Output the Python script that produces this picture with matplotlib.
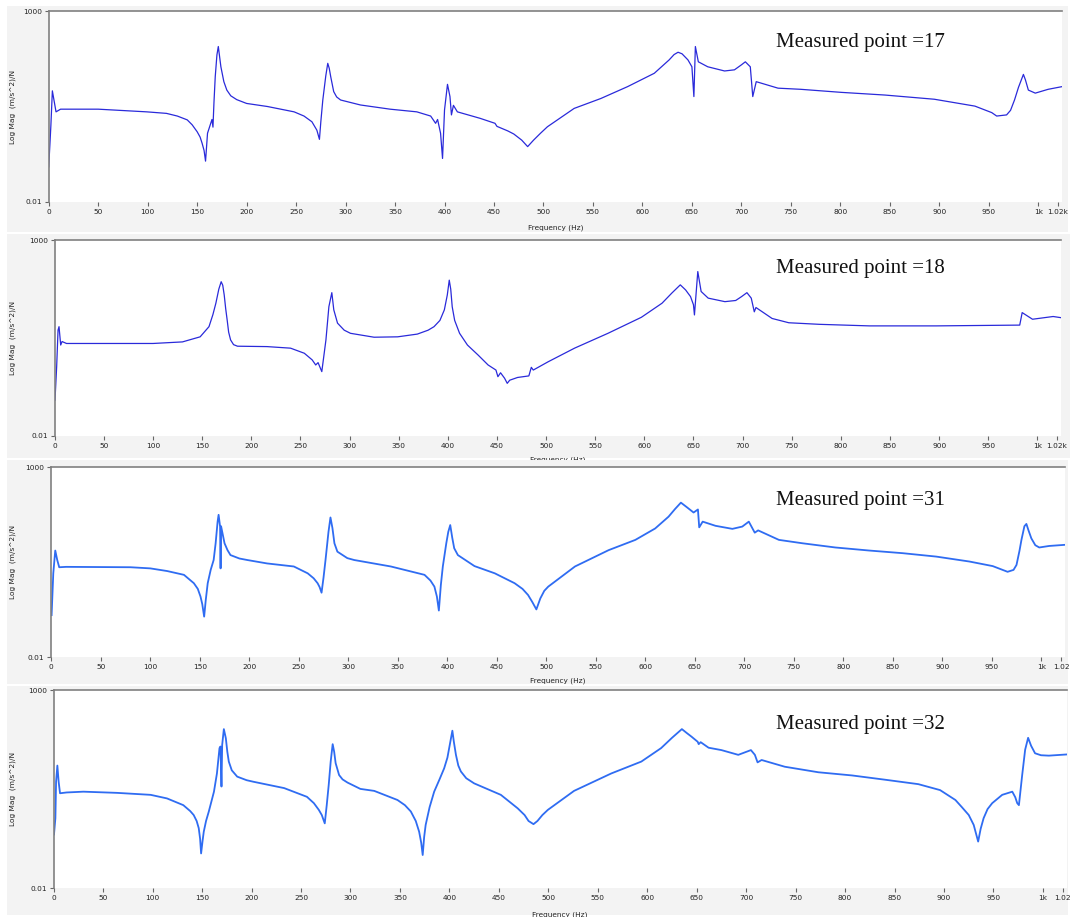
import numpy as np
import matplotlib
matplotlib.use("Agg")
from matplotlib import pyplot as plt
from matplotlib.patches import Rectangle
from matplotlib.ticker import NullLocator

# frequency (Hz) / log10 magnitude ((m/s^2)/N)
f17 = [0, 1.2, 2.2, 3.7, 7.4, 12, 50, 99, 119, 130,
       140, 145, 150, 153, 155, 157, 158.5, 160.5, 165, 166,
       167, 168.3, 170, 171.4, 174, 177, 180, 184, 190, 200,
       221, 248, 258, 266, 271, 273.6, 275, 277, 280, 282,
       283.5, 285, 288, 291, 295, 315, 345, 372, 386, 391,
       393, 396, 398, 400, 403, 405.5, 407, 409, 413, 436,
       451, 453, 464, 470, 478, 484, 490, 497, 504, 531,
       558, 585, 612, 627, 632, 636, 640, 646, 650, 652,
       653.5, 656.5, 666, 683, 693, 700, 704, 709, 711.5, 715,
       737, 760, 801, 845, 895, 936, 953, 958, 968, 972,
       976, 980, 985, 987, 990, 997, 1010, 1024]
m17 = [-1.08, -0.5, 0.0, 0.91, 0.36, 0.43, 0.43, 0.36, 0.32, 0.25,
       0.15, 0.02, -0.16, -0.3, -0.46, -0.65, -0.93, -0.2, 0.16, -0.04,
       0.6, 1.28, 1.85, 2.07, 1.54, 1.15, 0.93, 0.78, 0.68, 0.58,
       0.50, 0.36, 0.25, 0.10, -0.12, -0.36, 0.1, 0.67, 1.3, 1.63,
       1.5, 1.28, 0.89, 0.75, 0.67, 0.54, 0.43, 0.36, 0.25, 0.06,
       0.16, -0.2, -0.86, 0.41, 1.08, 0.76, 0.28, 0.53, 0.36, 0.19,
       0.06, -0.02, -0.14, -0.22, -0.38, -0.55, -0.38, -0.2, -0.03, 0.45,
       0.71, 1.02, 1.37, 1.72, 1.86, 1.92, 1.88, 1.72, 1.54, 0.76,
       2.07, 1.67, 1.54, 1.43, 1.46, 1.59, 1.67, 1.54, 0.76, 1.15,
       0.98, 0.95, 0.87, 0.80, 0.69, 0.51, 0.34, 0.25, 0.28, 0.4,
       0.67, 1.0, 1.34, 1.2, 0.93, 0.85, 0.95, 1.02]

f18 = [0.3, 2, 3.4, 4.4, 6.1, 7.5, 12, 100, 130, 148,
       157, 161, 164, 167, 169.4, 171, 172.5, 174, 175.5, 177,
       179, 182, 186, 216, 240, 254, 262, 265.6, 268, 271.8,
       276, 279, 282, 284, 287.8, 294.6, 301, 325, 349, 369,
       380, 386, 392, 396.5, 399.5, 401.5, 403, 404.5, 407, 412,
       420, 431, 441, 449, 451, 453.7, 457.8, 460.5, 463, 471,
       482.5, 485, 487, 502, 529, 563, 597, 618, 628, 636.6,
       642, 647, 650, 651, 654.4, 657.8, 665, 682, 693, 699,
       704.4, 708.8, 711.9, 713.6, 730, 747, 778, 829, 897, 982,
       984.5, 995, 1016, 1024]
m18 = [-1.09, -0.23, 0.70, 0.79, 0.32, 0.41, 0.36, 0.36, 0.40, 0.53,
       0.79, 1.1, 1.39, 1.75, 1.94, 1.85, 1.6, 1.25, 0.96, 0.65,
       0.45, 0.33, 0.29, 0.28, 0.24, 0.11, -0.06, -0.19, -0.13, -0.36,
       0.45, 1.30, 1.66, 1.22, 0.88, 0.70, 0.62, 0.52, 0.53, 0.60,
       0.70, 0.79, 0.95, 1.22, 1.6, 1.98, 1.75, 1.30, 0.95, 0.62,
       0.32, 0.06, -0.19, -0.32, -0.49, -0.39, -0.53, -0.66, -0.58, -0.51,
       -0.47, -0.25, -0.32, -0.11, 0.24, 0.62, 1.03, 1.39, 1.65, 1.86,
       1.73, 1.56, 1.35, 1.09, 2.20, 1.69, 1.52, 1.43, 1.46, 1.56,
       1.66, 1.52, 1.17, 1.28, 1.0, 0.89, 0.85, 0.81, 0.81, 0.83,
       1.15, 0.98, 1.05, 1.02]

f31 = [0.3, 2, 4, 6, 8, 15, 80, 100, 117, 134,
       144, 148, 150.7, 152.5, 154.4, 156, 158, 161, 164, 166,
       168, 169, 170.5, 171, 171.5, 175, 178, 181, 190, 198,
       218, 245, 259, 265, 269, 271, 273, 275, 277, 280,
       282, 284, 286, 289, 299, 306, 343, 377, 383, 387,
       389.5, 391.5, 393.5, 395.5, 399, 401, 403, 405, 407, 410.7,
       427.5, 448, 468, 476, 481.6, 486, 490, 494, 498, 502,
       529, 563, 590, 610, 623.5, 630, 636, 642, 648.8, 653.2,
       654.5, 658, 671, 688, 698, 704.6, 710.6, 714, 735, 759,
       792, 826, 860, 894, 927.5, 951, 966, 972, 975, 978,
       980, 983, 985, 987, 990, 994, 998, 1008, 1024]
m31 = [-0.89, 0.21, 0.81, 0.56, 0.37, 0.38, 0.37, 0.34, 0.27, 0.17,
       -0.05, -0.2, -0.40, -0.6, -0.93, -0.5, -0.05, 0.3, 0.56, 1.0,
       1.57, 1.75, 1.44, 0.34, 1.45, 1.0, 0.82, 0.69, 0.6, 0.56,
       0.47, 0.39, 0.21, 0.08, -0.05, -0.15, -0.30, 0.1, 0.56, 1.3,
       1.68, 1.4, 1.0, 0.78, 0.61, 0.56, 0.39, 0.17, 0.02, -0.14,
       -0.4, -0.77, -0.1, 0.39, 1.0, 1.3, 1.48, 1.15, 0.87, 0.69,
       0.40, 0.21, -0.05, -0.2, -0.36, -0.55, -0.74, -0.45, -0.25, -0.14,
       0.39, 0.82, 1.09, 1.39, 1.70, 1.9, 2.07, 1.95, 1.81, 1.89,
       1.42, 1.57, 1.46, 1.38, 1.44, 1.57, 1.28, 1.34, 1.09, 1.0,
       0.89, 0.81, 0.74, 0.65, 0.52, 0.40, 0.25, 0.3, 0.43, 0.8,
       1.09, 1.45, 1.51, 1.35, 1.13, 0.95, 0.89, 0.93, 0.96]

f32 = [0.3, 1.7, 2.4, 3.7, 5, 6.4, 13, 30, 64, 98,
       114.5, 131, 138, 141.5, 144.5, 146.6, 148, 149, 150.5, 151.7,
       154, 156.8, 160, 162, 165, 167.6, 168.6, 169.6, 170.3, 172,
       174, 175.5, 177, 180, 185.5, 195, 202, 233, 256, 263,
       268, 271, 274, 276, 278, 280, 282, 283.5, 285, 288.5,
       292, 297, 310, 324, 347.5, 355, 361, 366, 369.4, 371.5,
       373, 374.5, 376, 380, 384.6, 390, 394.7, 398, 401, 403,
       404.5, 406.6, 409, 411.6, 417, 425, 452, 469, 476, 480,
       485, 489, 494, 499.5, 526, 563.6, 594, 614, 625, 635,
       640, 644.7, 651, 652, 654, 662, 675, 692, 704.8, 708.8,
       711.5, 715.6, 739, 773, 807, 841, 874, 896, 911.5, 918,
       925, 930, 934.5, 937, 940, 944, 948.7, 958.8, 969, 972,
       974, 975.7, 977, 979, 982, 985, 988, 992, 998, 1006,
       1024]
m32 = [-0.64, -0.23, 0.69, 1.10, 0.69, 0.40, 0.42, 0.44, 0.41, 0.36,
       0.27, 0.10, -0.05, -0.15, -0.3, -0.48, -0.75, -1.12, -0.8, -0.57,
       -0.3, -0.06, 0.25, 0.44, 0.9, 1.54, 1.58, 0.57, 1.62, 2.02,
       1.79, 1.45, 1.2, 0.98, 0.82, 0.73, 0.69, 0.53, 0.31, 0.15,
       -0.02, -0.15, -0.36, 0.1, 0.61, 1.2, 1.64, 1.45, 1.16, 0.86,
       0.75, 0.67, 0.51, 0.46, 0.23, 0.1, -0.06, -0.3, -0.57, -0.85,
       -1.16, -0.7, -0.40, 0.05, 0.44, 0.75, 1.03, 1.3, 1.7, 1.98,
       1.7, 1.37, 1.1, 0.95, 0.78, 0.65, 0.36, 0.02, -0.15, -0.3,
       -0.38, -0.3, -0.15, -0.02, 0.46, 0.90, 1.20, 1.54, 1.8, 2.02,
       1.92, 1.83, 1.70, 1.64, 1.69, 1.55, 1.49, 1.37, 1.49, 1.37,
       1.18, 1.24, 1.07, 0.93, 0.85, 0.74, 0.63, 0.48, 0.23, 0.05,
       -0.15, -0.4, -0.82, -0.5, -0.23, 0.0, 0.15, 0.36, 0.44, 0.3,
       0.15, 0.10, 0.4, 0.86, 1.5, 1.80, 1.6, 1.41, 1.36, 1.35,
       1.38]

labels = ["Measured point =17", "Measured point =18", "Measured point =31", "Measured point =32"]
xticks = list(range(0, 1001, 50)) + [1020]
xlab_k = [str(t) for t in range(0, 951, 50)] + ["1k", "1.02k"]
xlab_short = [str(t) for t in range(0, 951, 50)] + ["1k", "1.02"]

W, H = 1074, 917
fig = plt.figure(figsize=(W / 100, H / 100), dpi=100)
fig.patch.set_facecolor("white")

# pixel boxes: axes (left, right, top, bottom), grey panel (left, right, top, bottom)
axbox = [(48.7, 1062, 11, 202), (54.7, 1061, 240.3, 435.7), (51.3, 1065, 467.3, 657.3), (53.7, 1066.7, 690.3, 888.3)]
panbox = [(7, 1068, 6, 232), (7, 1070, 234, 458), (7, 1068, 460, 684), (7, 1068, 686, 915)]
xlab_y = [-0.12, -0.104, -0.108, -0.118]
textpos = [(776, 43), (776, 269), (776, 501), (776, 724)]
series = [(f17, m17), (f18, m18), (f31, m31), (f32, m32)]
colors = ["#2a2ada", "#2a2ada", "#2f6cf2", "#2f6cf2"]
widths = [0.9, 0.9, 1.3, 1.3]

for i in range(4):
    pl, pr, pt, pb = panbox[i]
    fig.patches.append(Rectangle((pl / W, 1 - pb / H), (pr - pl) / W, (pb - pt) / H,
                                 transform=fig.transFigure, facecolor="#f3f3f3", edgecolor="none",
                                 zorder=2 * i - 0.5))
    l, r, t, b = axbox[i]
    ax = fig.add_axes([l / W, 1 - b / H, (r - l) / W, (b - t) / H])
    ax.set_zorder(2 * i)
    ax.set_facecolor("white")
    f, m = series[i]
    ax.plot(f, 10 ** np.array(m), color=colors[i], lw=widths[i])
    ax.set_yscale("log")
    ax.set_ylim(0.01, 1000)
    ax.set_xlim(0, 1024)
    ax.set_yticks([0.01, 1000])
    ax.set_yticklabels(["0.01", "1000"])
    ax.yaxis.set_minor_locator(NullLocator())
    ax.set_xticks(xticks)
    ax.set_xticklabels(xlab_k if i < 2 else xlab_short)
    ax.tick_params(axis="both", direction="out", length=3, width=0.8, color="#666666",
                   labelsize=5.3, pad=2, labelcolor="#222222")
    for s in ["right", "bottom"]:
        ax.spines[s].set_visible(False)
    for s in ["left", "top"]:
        ax.spines[s].set_color("#808080")
        ax.spines[s].set_linewidth(1.2)
    ax.set_xlabel("Frequency (Hz)", fontsize=5.3, color="#222222")
    ax.xaxis.set_label_coords(0.5, xlab_y[i])
    ax.set_ylabel("Log Mag  (m/s^2)/N", fontsize=5.3, color="#222222")
    ax.yaxis.set_label_coords(-(l - 15.7) / (r - l), 0.5)
    tx, ty = textpos[i]
    fig.text(tx / W, 1 - ty / H, labels[i], family="Liberation Serif", fontsize=15,
             va="center", ha="left", color="#111111", zorder=10)

plt.savefig("out.png", dpi=100)
